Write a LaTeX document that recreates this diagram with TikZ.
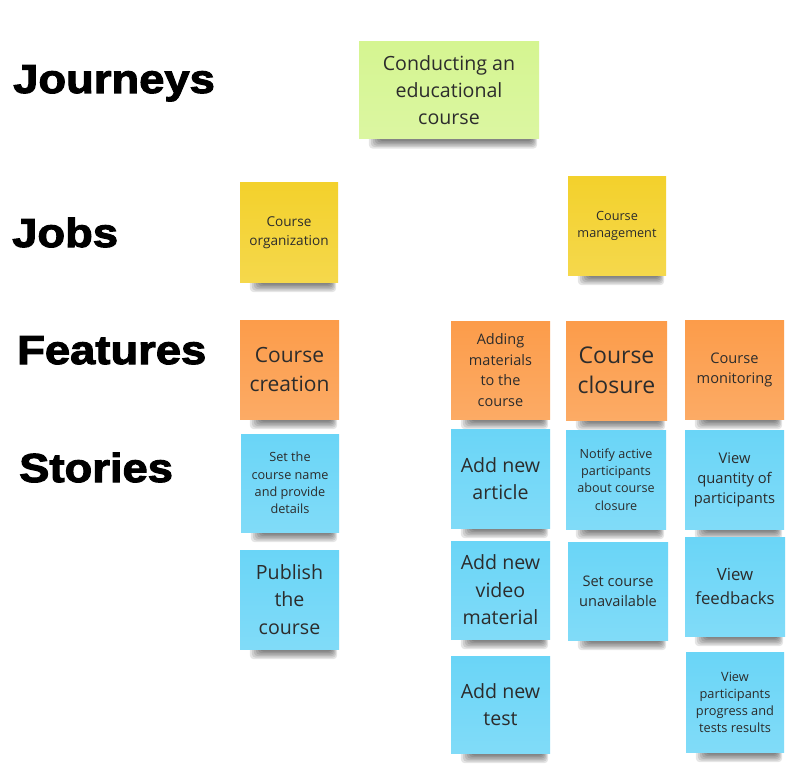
\documentclass[tikz,border=0pt]{standalone}
\usepackage{fontspec}
\setmainfont{Open Sans}
\newfontfamily\headfont{Liberation Sans Bold}[FakeBold=2.6,FakeStretch=1.12]
\usetikzlibrary{calc,backgrounds}

\definecolor{ink}{RGB}{44,44,44}
\definecolor{jgreen}{RGB}{213,245,145}
\definecolor{jyellow}{RGB}{243,209,44}
\definecolor{jorange}{RGB}{252,156,74}
\definecolor{jblue}{RGB}{106,213,247}

\tikzset{
  note/.style={draw=none, inner sep=0pt, align=center, text=ink,
    top color=#1, bottom color=#1!85!white},
  rowlabel/.style={anchor=base west, inner sep=0pt, text=black,
    font=\headfont\fontsize{40.5}{44}\selectfont},
}

% name, cx, cy, width, height, colour, font size, line skip, text
\newcommand\stickynote[9]{%
  \node[note=#6, minimum width=#4pt, minimum height=#5pt,
        font=\fontsize{#7}{#8}\selectfont] (#1) at (#2,#3) {#9};}

% soft shadow along the lower edge of a note
\newcommand\noteshadow[1]{%
  \foreach \k in {0,...,5}{%
    \fill[black, opacity=0.1, rounded corners=4pt]
      ($(#1.south west)+(10+2*\k,-12)$) rectangle
      ($(#1.south east)+(-2-\k,10-1.5*\k)$);}}

\begin{document}
\begin{tikzpicture}[x=1pt, y=-1pt]
  \useasboundingbox (0,0) rectangle (800,770);

  % row headings
  \node[rowlabel] (hjourneys) at (13,93)  {Journeys};
  \node[rowlabel] (hjobs)     at (12,247) {Jobs};
  \node[rowlabel] (hfeatures) at (17,364) {Features};
  \node[rowlabel] (hstories)  at (19,482) {Stories};

  % journey
  \stickynote{journey}{449}{90}{180}{97}{jgreen}{19.6}{27.3}{Conducting an\\educational\\course}

  % jobs
  \stickynote{organization}{289}{232.5}{98}{99}{jyellow}{13.6}{18.7}{Course\\organization}
  \stickynote{management}{617}{226}{98}{98}{jyellow}{12.7}{16.8}{Course\\management}

  % features
  \stickynote{creation}{289.5}{369.5}{99}{99}{jorange}{21}{29}{Course\\creation}
  \stickynote{materials}{500.5}{370}{99}{98}{jorange}{14.5}{20.5}{Adding\\materials\\to the\\course}
  \stickynote{closure}{616.5}{370.5}{101}{99}{jorange}{23}{30}{Course\\closure}
  \stickynote{monitoring}{734.5}{369.5}{99}{99}{jorange}{14.6}{20}{Course\\monitoring}

  % stories
  \stickynote{setname}{290}{483}{98}{98}{jblue}{12.7}{17.4}{Set the\\course name\\and provide\\details}
  \stickynote{publish}{289.5}{599.5}{99}{99}{jblue}{19.6}{27.5}{Publish\\the\\course}
  \stickynote{article}{500.5}{478.5}{99}{99}{jblue}{19.6}{27}{Add new\\article}
  \stickynote{video}{500.5}{590}{99}{98}{jblue}{19.6}{27.5}{Add new\\video\\material}
  \stickynote{test}{500.5}{704.5}{99}{97}{jblue}{19.6}{27}{Add new\\test}
  \stickynote{notify}{616}{479.5}{100}{99}{jblue}{12.6}{17.2}{Notify active\\participants\\about course\\closure}
  \stickynote{unavailable}{618}{591}{100}{98}{jblue}{14.6}{20.3}{Set course\\unavailable}
  \stickynote{quantity}{734.5}{479.5}{99}{99}{jblue}{14.7}{20}{View\\quantity of\\participants}
  \stickynote{feedbacks}{735}{586.5}{100}{99}{jblue}{16.8}{24}{View\\feedbacks}
  \stickynote{progress}{735}{702}{98}{100}{jblue}{12.8}{17}{View\\participants\\progress and\\tests results}

  \begin{scope}[on background layer]
    \fill[white] (0,0) rectangle (800,770);
    \foreach \n in {journey,organization,management,creation,materials,closure,
                    monitoring,setname,publish,article,video,test,notify,
                    unavailable,quantity,feedbacks,progress}{\noteshadow{\n}}
  \end{scope}
\end{tikzpicture}
\end{document}
